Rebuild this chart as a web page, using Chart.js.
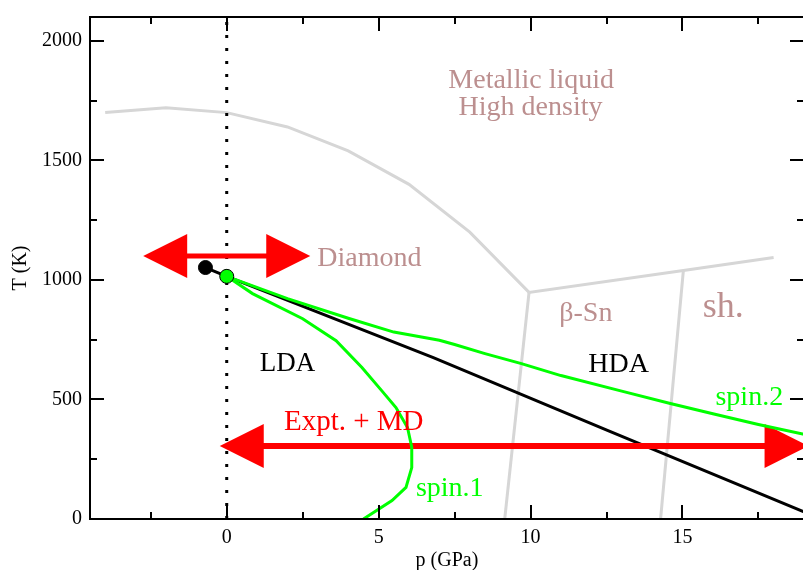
<!DOCTYPE html>
<html>
<head>
<meta charset="utf-8">
<title>Silicon phase diagram</title>
<script src="https://cdn.jsdelivr.net/npm/chart.js@4.4.1/dist/chart.umd.min.js"></script>
<style>
  html, body { margin: 0; padding: 0; background: #fff; overflow: hidden; width: 803px; height: 570px; }
  #wrap { position: relative; width: 812px; height: 570px; }
</style>
</head>
<body>
<div id="wrap"><canvas id="c" width="812" height="570"></canvas></div>
<script>
// ---- data: pressure p (GPa), temperature T (K) ----

// melting line and solid-solid boundaries
const meltP  = [-4, -2, 0, 2, 4, 6, 8, 9.95, 15.03, 18];
const meltT  = [1700, 1720, 1700, 1640, 1540, 1400, 1200, 948, 1040, 1094];
const betaSnP = [9.95, 9.15];
const betaSnT = [948, 0];
const simpleHexP = [15.03, 14.28];
const simpleHexT = [1040, 0];

// LDA / HDA coexistence line
const ldaHdaP = [-0.7, 0, 6.8, 12.55, 19];
const ldaHdaT = [1052, 1015, 675, 370, 30];

// spin-model lines
const spin1P = [0, 0.85, 2.5, 3.6, 4.45, 5.1, 5.57, 5.95, 6.09, 6.09, 5.9, 5.44, 4.5];
const spin1T = [1015, 943, 838, 746, 634, 537, 466, 383, 300, 215, 132, 77, 0];
const spin2P = [0, 2, 4, 5.5, 7, 7.5, 8.5, 9.7, 11, 13, 14.6, 16, 17.5, 19];
const spin2T = [1015, 922, 840, 782, 748, 730, 692, 650, 600, 535, 483, 440, 395, 354];

// critical points
const lldCritP = [-0.7];
const lldCritT = [1052];
const spinCritP = [0];
const spinCritT = [1015];

// double arrows: [p from, p to] at temperature T
const diamondArrowP = [-2.75, 2.75];
const diamondArrowT = 1100;
const exptArrowP = [-0.23, 19.15];
const exptArrowT = 305;

// axes
const pRange = [-4.5, 19];
const tRange = [0, 2100];
const pMajorTicks = [0, 5, 10, 15];
const pMinorTicks = [-2.5, 2.5, 7.5, 12.5, 17.5];
const tMajorTicks = [0, 500, 1000, 1500, 2000];
const tMinorTicks = [250, 750, 1250, 1750];

// ---- helpers ----
const zip = (ps, ts) => ps.map((p, i) => ({ x: p, y: ts[i] }));
const SERIF = "'Liberation Serif', 'Times New Roman', serif";
const ROSY = '#bc8f8f';
const GRAY = '#d6d6d6';
const GREEN = '#00ff00';
const RED = '#ff0000';

// region labels (anchored in p/T units, alphabetic baseline)
const regionLabels = [
  { text: 'Metallic liquid', p: 10.02, t: 1803, align: 'center', size: 28, color: ROSY },
  { text: 'High density',    p: 10.0,  t: 1688, align: 'center', size: 28, color: ROSY },
  { text: 'Diamond',         p: 2.98,  t: 1060, align: 'left',   size: 28, color: ROSY },
  { text: 'β-Sn',            p: 11.82, t: 830,  align: 'center', size: 28, color: ROSY },
  { text: 'sh.',             p: 16.34, t: 847,  align: 'center', size: 36, color: ROSY },
  { text: 'LDA',             p: 2.0,   t: 621,  align: 'center', size: 27, color: '#000' },
  { text: 'HDA',             p: 12.9,  t: 613,  align: 'center', size: 28, color: '#000' },
  { text: 'Expt. + MD',      p: 4.18,  t: 374,  align: 'center', size: 29, color: RED },
  { text: 'spin.1',          p: 7.34,  t: 98,   align: 'center', size: 28, color: GREEN },
  { text: 'spin.2',          p: 17.2,  t: 475,  align: 'center', size: 28, color: GREEN }
];

function drawDoubleArrow(chart, pPair, t, shaft) {
  const { ctx, chartArea: a, scales: { x, y } } = chart;
  const x1 = x.getPixelForValue(pPair[0]);
  const x2 = x.getPixelForValue(pPair[1]);
  const yy = y.getPixelForValue(t);
  const headLen = 44, headHalf = 22;
  ctx.save();
  ctx.beginPath();
  ctx.rect(a.left, a.top, a.right - a.left, a.bottom - a.top);
  ctx.clip();
  ctx.strokeStyle = RED;
  ctx.fillStyle = RED;
  ctx.lineWidth = shaft;
  ctx.beginPath();
  ctx.moveTo(x1 + headLen - 2, yy);
  ctx.lineTo(x2 - headLen + 2, yy);
  ctx.stroke();
  ctx.beginPath();
  ctx.moveTo(x1, yy);
  ctx.lineTo(x1 + headLen, yy - headHalf);
  ctx.lineTo(x1 + headLen, yy + headHalf);
  ctx.closePath();
  ctx.fill();
  ctx.beginPath();
  ctx.moveTo(x2, yy);
  ctx.lineTo(x2 - headLen, yy - headHalf);
  ctx.lineTo(x2 - headLen, yy + headHalf);
  ctx.closePath();
  ctx.fill();
  ctx.restore();
}

// arrows sit above the boundary lines but below the spin lines
const arrowsPlugin = {
  id: 'arrows',
  beforeDatasetDraw(chart, args) {
    if (args.meta.label === 'spin.2') {
      drawDoubleArrow(chart, diamondArrowP, diamondArrowT, 5);
      drawDoubleArrow(chart, exptArrowP, exptArrowT, 6);
    }
  }
};

const labelsPlugin = {
  id: 'regionLabels',
  afterDatasetsDraw(chart) {
    const { ctx, scales: { x, y } } = chart;
    ctx.save();
    ctx.textBaseline = 'alphabetic';
    regionLabels.forEach(l => {
      ctx.font = l.size + 'px ' + SERIF;
      ctx.fillStyle = l.color;
      ctx.textAlign = l.align;
      ctx.fillText(l.text, x.getPixelForValue(l.p), y.getPixelForValue(l.t));
    });
    ctx.restore();
  }
};

// closed frame with inward major/minor ticks on all four sides
const framePlugin = {
  id: 'frame',
  afterDraw(chart) {
    const { ctx, chartArea: a, scales: { x, y } } = chart;
    const major = 14, minor = 7;
    ctx.save();
    ctx.strokeStyle = '#000';
    ctx.lineWidth = 2;
    ctx.strokeRect(a.left, a.top, a.right - a.left, a.bottom - a.top);
    const seg = (x1, y1, x2, y2) => { ctx.beginPath(); ctx.moveTo(x1, y1); ctx.lineTo(x2, y2); ctx.stroke(); };
    const xt = (v, len) => { const px = Math.round(x.getPixelForValue(v)); seg(px, a.bottom, px, a.bottom - len); seg(px, a.top, px, a.top + len); };
    const yt = (v, len) => { const py = Math.round(y.getPixelForValue(v)); seg(a.left, py, a.left + len, py); seg(a.right, py, a.right - len, py); };
    pMajorTicks.forEach(v => xt(v, major));
    pMinorTicks.forEach(v => xt(v, minor));
    tMajorTicks.forEach(v => yt(v, major));
    tMinorTicks.forEach(v => yt(v, minor));
    ctx.restore();
  }
};

const lineDefaults = { showLine: true, pointRadius: 0, pointHoverRadius: 0, fill: false, tension: 0 };

new Chart(document.getElementById('c'), {
  type: 'scatter',
  data: {
    datasets: [
      { ...lineDefaults, label: 'melting', data: zip(meltP, meltT), borderColor: GRAY, borderWidth: 3, order: 9 },
      { ...lineDefaults, label: 'beta-Sn', data: zip(betaSnP, betaSnT), borderColor: GRAY, borderWidth: 3, order: 8 },
      { ...lineDefaults, label: 'sh', data: zip(simpleHexP, simpleHexT), borderColor: GRAY, borderWidth: 3, order: 7 },
      { ...lineDefaults, label: 'p=0', data: [{ x: 0, y: tRange[0] }, { x: 0, y: tRange[1] }],
        borderColor: '#000', borderWidth: 3, borderDash: [3, 10], borderCapStyle: 'butt', order: 6 },
      { ...lineDefaults, label: 'LDA-HDA', data: zip(ldaHdaP, ldaHdaT), borderColor: '#000', borderWidth: 3, order: 5 },
      { ...lineDefaults, label: 'spin.2', data: zip(spin2P, spin2T), borderColor: GREEN, borderWidth: 3, order: 4 },
      { ...lineDefaults, label: 'spin.1', data: zip(spin1P, spin1T), borderColor: GREEN, borderWidth: 3, order: 3 },
      { label: 'LLCP', data: zip(lldCritP, lldCritT), showLine: false, pointRadius: 7, pointHoverRadius: 7,
        backgroundColor: '#000', borderColor: '#000', borderWidth: 1, order: 2 },
      { label: 'spin CP', data: zip(spinCritP, spinCritT), showLine: false, pointRadius: 7, pointHoverRadius: 7,
        backgroundColor: GREEN, borderColor: '#000', borderWidth: 1, order: 1 }
    ]
  },
  options: {
    responsive: false,
    animation: false,
    devicePixelRatio: 1,
    layout: { padding: { top: 17, right: 5, left: 0, bottom: 0 } },
    plugins: { legend: { display: false }, tooltip: { enabled: false } },
    events: [],
    scales: {
      x: {
        type: 'linear', min: pRange[0], max: pRange[1],
        afterBuildTicks: s => { s.ticks = pMajorTicks.map(v => ({ value: v })); },
        afterFit: s => { s.height = 51; s.paddingLeft = 0; s.paddingRight = 0; },
        grid: { display: false, drawTicks: false },
        border: { display: false },
        ticks: { color: '#000', padding: 7, maxRotation: 0, autoSkip: false,
                 font: { family: SERIF, size: 20 }, callback: v => String(v) },
        title: { display: true, text: 'p (GPa)', color: '#000',
                 font: { family: SERIF, size: 20, lineHeight: 1 }, padding: { top: 0, bottom: -1 } }
      },
      y: {
        type: 'linear', min: tRange[0], max: tRange[1],
        afterBuildTicks: s => { s.ticks = tMajorTicks.map(v => ({ value: v })); },
        afterFit: s => { s.width = 90; s.paddingTop = 0; s.paddingBottom = 0; },
        grid: { display: false, drawTicks: false },
        border: { display: false },
        ticks: { color: '#000', padding: 8, autoSkip: false,
                 font: { family: SERIF, size: 20 }, callback: v => String(v) },
        title: { display: true, text: 'T (K)', color: '#000',
                 font: { family: SERIF, size: 20, lineHeight: 1 }, padding: { top: 11, bottom: 0 } }
      }
    }
  },
  plugins: [arrowsPlugin, labelsPlugin, framePlugin]
});
</script>
</body>
</html>
